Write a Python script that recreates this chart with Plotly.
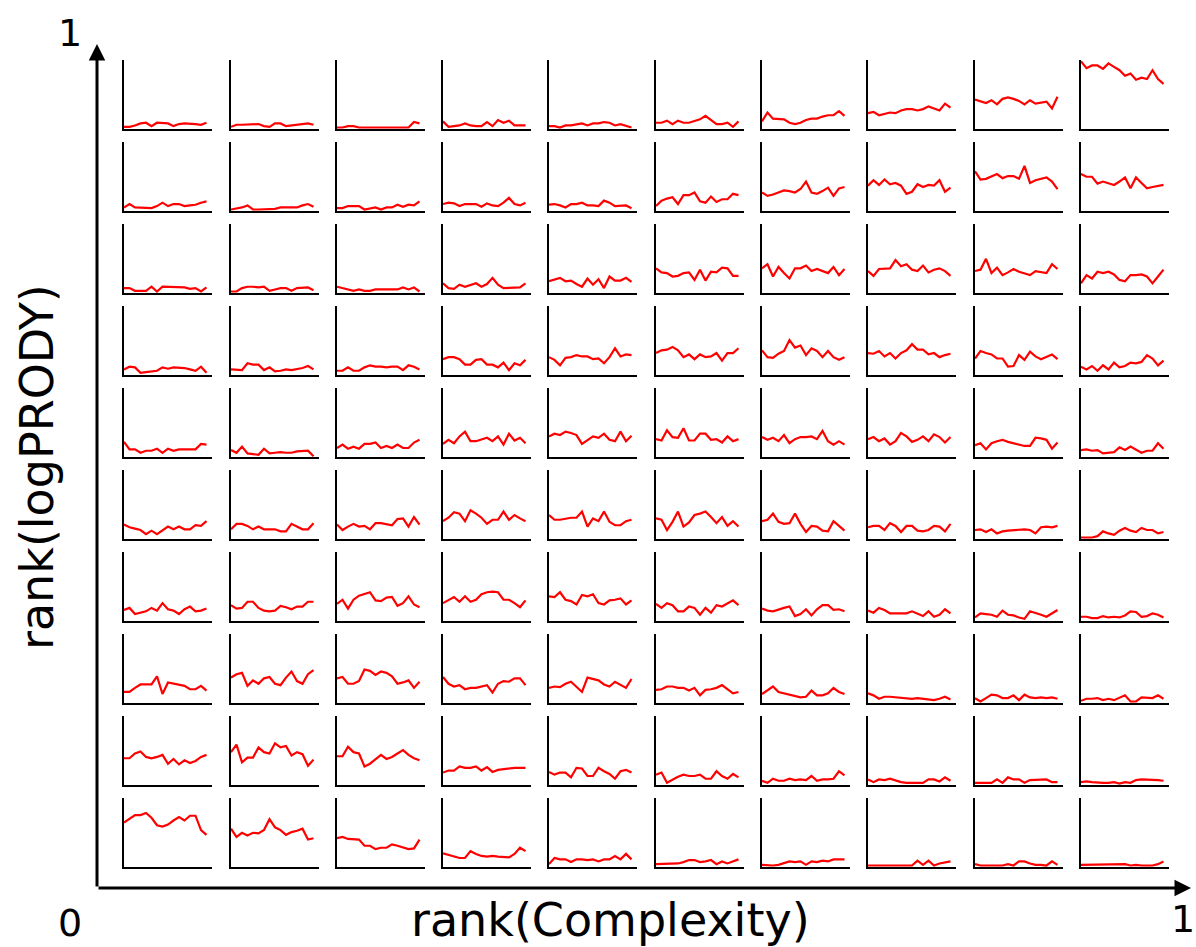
import plotly.graph_objects as go

# Each row (top to bottom) holds 10 panels (left to right), 16 values each
row0 = [
    [0.02,0.02,0.04,0.07,0.08,0.03,0.08,0.07,0.07,0.03,0.06,0.07,0.07,0.06,0.05,0.08],
    [0.02,0.05,0.05,0.05,0.05,0.06,0.03,0.02,0.07,0.07,0.03,0.04,0.04,0.06,0.07,0.05],
    [0.01,0.01,0.03,0.03,0.01,0.01,0.02,0.01,0.02,0.01,0.02,0.01,0.01,0.01,0.09,0.07],
    [0.10,0.02,0.03,0.04,0.07,0.04,0.03,0.03,0.09,0.03,0.12,0.08,0.11,0.04,0.04,0.04],
    [0.03,0.03,0.01,0.04,0.04,0.06,0.07,0.04,0.07,0.07,0.09,0.08,0.04,0.06,0.03,0.01],
    [0.08,0.08,0.11,0.06,0.11,0.08,0.08,0.11,0.13,0.18,0.12,0.06,0.06,0.08,0.02,0.10],
    [0.10,0.23,0.14,0.14,0.13,0.08,0.06,0.08,0.12,0.14,0.14,0.17,0.19,0.19,0.25,0.18],
    [0.22,0.24,0.19,0.21,0.23,0.22,0.26,0.28,0.28,0.26,0.28,0.32,0.29,0.26,0.36,0.30],
    [0.42,0.39,0.37,0.41,0.35,0.43,0.45,0.43,0.40,0.35,0.41,0.36,0.38,0.39,0.29,0.46],
    [0.98,0.88,0.92,0.92,0.87,0.95,0.90,0.85,0.77,0.80,0.71,0.74,0.72,0.85,0.72,0.65],
]
row1 = [
    [0.04,0.09,0.04,0.04,0.04,0.03,0.06,0.11,0.06,0.09,0.09,0.06,0.07,0.08,0.11,0.13],
    [0.01,0.02,0.04,0.07,0.01,0.01,0.01,0.01,0.02,0.04,0.04,0.05,0.04,0.07,0.09,0.05],
    [0.03,0.03,0.06,0.06,0.06,0.01,0.03,0.04,0.01,0.04,0.04,0.08,0.05,0.08,0.07,0.13],
    [0.09,0.11,0.10,0.06,0.09,0.09,0.09,0.05,0.10,0.07,0.06,0.11,0.18,0.09,0.07,0.11],
    [0.08,0.09,0.07,0.04,0.09,0.09,0.11,0.07,0.07,0.06,0.14,0.11,0.06,0.07,0.07,0.03],
    [0.06,0.14,0.17,0.19,0.09,0.22,0.22,0.26,0.13,0.11,0.20,0.12,0.16,0.16,0.24,0.22],
    [0.26,0.21,0.23,0.26,0.29,0.28,0.26,0.31,0.42,0.26,0.24,0.28,0.33,0.21,0.32,0.34],
    [0.36,0.44,0.37,0.45,0.38,0.40,0.36,0.24,0.27,0.38,0.34,0.37,0.36,0.44,0.27,0.33],
    [0.57,0.45,0.46,0.49,0.53,0.47,0.50,0.50,0.46,0.65,0.40,0.44,0.46,0.48,0.42,0.31],
    [0.53,0.49,0.49,0.39,0.42,0.40,0.37,0.42,0.48,0.32,0.48,0.40,0.32,0.34,0.36,0.37],
]
row2 = [
    [0.06,0.06,0.02,0.02,0.02,0.08,0.01,0.08,0.08,0.07,0.07,0.07,0.05,0.06,0.01,0.07],
    [0.01,0.01,0.06,0.08,0.08,0.07,0.08,0.02,0.04,0.06,0.06,0.02,0.06,0.06,0.07,0.03],
    [0.08,0.06,0.04,0.02,0.04,0.02,0.02,0.04,0.04,0.04,0.04,0.04,0.07,0.04,0.07,0.01],
    [0.13,0.06,0.05,0.11,0.08,0.11,0.13,0.08,0.12,0.21,0.11,0.06,0.06,0.07,0.07,0.13],
    [0.16,0.19,0.21,0.16,0.17,0.12,0.08,0.20,0.11,0.19,0.06,0.23,0.17,0.17,0.21,0.15],
    [0.35,0.29,0.28,0.23,0.24,0.28,0.29,0.18,0.33,0.17,0.30,0.29,0.36,0.35,0.24,0.24],
    [0.35,0.41,0.23,0.37,0.28,0.20,0.35,0.35,0.39,0.31,0.34,0.31,0.28,0.37,0.25,0.34],
    [0.31,0.24,0.34,0.34,0.35,0.47,0.38,0.41,0.33,0.31,0.39,0.29,0.33,0.35,0.31,0.24],
    [0.31,0.33,0.49,0.28,0.36,0.25,0.29,0.34,0.30,0.27,0.25,0.31,0.29,0.28,0.41,0.34],
    [0.13,0.25,0.20,0.30,0.28,0.30,0.26,0.18,0.16,0.25,0.25,0.26,0.23,0.13,0.23,0.33],
]
row3 = [
    [0.07,0.11,0.10,0.02,0.03,0.04,0.05,0.10,0.08,0.10,0.10,0.09,0.07,0.05,0.11,0.02],
    [0.07,0.06,0.06,0.16,0.14,0.14,0.06,0.10,0.04,0.05,0.07,0.06,0.07,0.09,0.12,0.07],
    [0.05,0.05,0.10,0.05,0.05,0.10,0.13,0.11,0.11,0.10,0.11,0.11,0.06,0.13,0.11,0.07],
    [0.22,0.25,0.25,0.22,0.14,0.14,0.21,0.22,0.14,0.14,0.10,0.17,0.06,0.16,0.13,0.21],
    [0.25,0.21,0.13,0.24,0.25,0.28,0.26,0.26,0.22,0.23,0.16,0.25,0.38,0.26,0.29,0.28],
    [0.31,0.35,0.36,0.40,0.35,0.25,0.29,0.22,0.29,0.25,0.26,0.31,0.20,0.31,0.31,0.38],
    [0.35,0.25,0.24,0.30,0.34,0.50,0.39,0.42,0.28,0.38,0.34,0.25,0.34,0.25,0.21,0.25],
    [0.31,0.30,0.34,0.26,0.31,0.23,0.31,0.35,0.44,0.36,0.36,0.29,0.31,0.25,0.28,0.30],
    [0.23,0.34,0.31,0.29,0.23,0.23,0.11,0.12,0.28,0.21,0.33,0.26,0.22,0.25,0.29,0.22],
    [0.11,0.07,0.12,0.05,0.13,0.07,0.17,0.10,0.12,0.17,0.16,0.18,0.28,0.23,0.13,0.20],
]
row4 = [
    [0.21,0.10,0.10,0.05,0.08,0.08,0.11,0.05,0.11,0.08,0.10,0.10,0.10,0.10,0.18,0.17],
    [0.09,0.05,0.14,0.04,0.03,0.02,0.11,0.04,0.05,0.06,0.05,0.05,0.07,0.07,0.08,0.00],
    [0.12,0.17,0.11,0.14,0.11,0.18,0.18,0.20,0.12,0.15,0.12,0.17,0.12,0.12,0.20,0.24],
    [0.18,0.24,0.19,0.29,0.36,0.22,0.22,0.25,0.27,0.22,0.29,0.17,0.33,0.23,0.27,0.19],
    [0.29,0.33,0.31,0.36,0.34,0.31,0.18,0.24,0.29,0.27,0.33,0.24,0.22,0.36,0.22,0.30],
    [0.25,0.23,0.38,0.28,0.27,0.41,0.23,0.23,0.33,0.33,0.24,0.25,0.20,0.29,0.22,0.25],
    [0.28,0.24,0.27,0.22,0.31,0.19,0.25,0.28,0.28,0.29,0.25,0.37,0.22,0.17,0.22,0.17],
    [0.25,0.28,0.22,0.26,0.17,0.22,0.34,0.29,0.21,0.24,0.29,0.22,0.32,0.28,0.20,0.28],
    [0.16,0.19,0.10,0.19,0.22,0.24,0.21,0.19,0.18,0.15,0.15,0.27,0.26,0.24,0.11,0.20],
    [0.09,0.10,0.08,0.09,0.04,0.05,0.06,0.13,0.09,0.14,0.10,0.05,0.08,0.08,0.19,0.11],
]
row5 = [
    [0.20,0.16,0.14,0.12,0.06,0.11,0.06,0.11,0.17,0.13,0.17,0.13,0.13,0.19,0.18,0.25],
    [0.13,0.21,0.21,0.18,0.13,0.17,0.13,0.13,0.13,0.10,0.10,0.21,0.17,0.13,0.13,0.22],
    [0.20,0.12,0.17,0.21,0.17,0.18,0.13,0.22,0.22,0.21,0.19,0.28,0.29,0.17,0.31,0.20],
    [0.25,0.30,0.38,0.36,0.25,0.41,0.36,0.30,0.21,0.27,0.27,0.39,0.27,0.34,0.29,0.25],
    [0.34,0.27,0.27,0.29,0.30,0.30,0.39,0.17,0.29,0.25,0.39,0.24,0.19,0.19,0.25,0.27],
    [0.29,0.27,0.12,0.24,0.39,0.17,0.23,0.34,0.36,0.39,0.31,0.22,0.31,0.18,0.25,0.17],
    [0.25,0.27,0.36,0.24,0.21,0.22,0.36,0.21,0.09,0.18,0.17,0.11,0.10,0.25,0.18,0.11],
    [0.16,0.18,0.18,0.12,0.22,0.18,0.09,0.18,0.18,0.11,0.10,0.12,0.18,0.17,0.10,0.21],
    [0.12,0.13,0.09,0.13,0.07,0.10,0.11,0.12,0.12,0.13,0.12,0.07,0.16,0.17,0.16,0.18],
    [0.01,0.01,0.01,0.03,0.10,0.07,0.05,0.11,0.15,0.11,0.09,0.15,0.12,0.12,0.07,0.09],
]
row6 = [
    [0.15,0.18,0.09,0.11,0.13,0.18,0.14,0.25,0.16,0.14,0.09,0.16,0.20,0.13,0.14,0.17],
    [0.22,0.17,0.18,0.27,0.27,0.18,0.14,0.13,0.14,0.21,0.19,0.16,0.20,0.20,0.27,0.27],
    [0.24,0.30,0.17,0.30,0.36,0.38,0.41,0.29,0.28,0.33,0.34,0.21,0.25,0.35,0.23,0.19],
    [0.25,0.30,0.34,0.27,0.35,0.27,0.30,0.38,0.41,0.42,0.41,0.30,0.30,0.25,0.19,0.29],
    [0.35,0.34,0.41,0.30,0.28,0.23,0.37,0.35,0.38,0.25,0.23,0.29,0.30,0.32,0.23,0.29],
    [0.24,0.18,0.25,0.22,0.13,0.13,0.20,0.18,0.08,0.18,0.11,0.22,0.20,0.25,0.29,0.22],
    [0.17,0.14,0.13,0.16,0.18,0.20,0.06,0.09,0.16,0.07,0.16,0.22,0.22,0.15,0.16,0.13],
    [0.14,0.11,0.18,0.15,0.10,0.10,0.11,0.10,0.13,0.09,0.06,0.13,0.05,0.08,0.16,0.10],
    [0.04,0.10,0.09,0.08,0.05,0.14,0.08,0.07,0.04,0.02,0.13,0.11,0.08,0.05,0.10,0.15],
    [0.05,0.05,0.03,0.03,0.06,0.04,0.05,0.04,0.07,0.13,0.12,0.05,0.06,0.10,0.08,0.04],
]
row7 = [
    [0.15,0.15,0.21,0.26,0.26,0.26,0.38,0.12,0.29,0.27,0.26,0.24,0.19,0.19,0.24,0.17],
    [0.36,0.41,0.43,0.24,0.32,0.27,0.35,0.37,0.27,0.25,0.36,0.45,0.31,0.27,0.41,0.47],
    [0.35,0.37,0.27,0.27,0.31,0.48,0.46,0.40,0.45,0.43,0.38,0.27,0.29,0.32,0.21,0.30],
    [0.37,0.27,0.23,0.25,0.19,0.21,0.21,0.23,0.25,0.14,0.27,0.31,0.30,0.35,0.35,0.25],
    [0.21,0.23,0.22,0.27,0.30,0.23,0.15,0.36,0.34,0.32,0.26,0.23,0.30,0.26,0.21,0.34],
    [0.18,0.19,0.23,0.23,0.21,0.21,0.17,0.21,0.10,0.18,0.19,0.21,0.25,0.19,0.13,0.15],
    [0.12,0.17,0.23,0.15,0.13,0.12,0.10,0.07,0.08,0.17,0.10,0.10,0.13,0.21,0.15,0.12],
    [0.13,0.10,0.05,0.08,0.08,0.07,0.06,0.06,0.05,0.06,0.05,0.04,0.03,0.05,0.08,0.04],
    [0.06,0.01,0.06,0.11,0.10,0.06,0.06,0.10,0.03,0.11,0.07,0.06,0.07,0.06,0.07,0.05],
    [0.02,0.05,0.05,0.06,0.03,0.05,0.03,0.07,0.10,0.01,0.01,0.07,0.07,0.06,0.10,0.05],
]
row8 = [
    [0.38,0.38,0.45,0.48,0.40,0.38,0.40,0.43,0.30,0.37,0.29,0.35,0.31,0.34,0.40,0.43],
    [0.47,0.58,0.32,0.39,0.39,0.54,0.47,0.45,0.60,0.54,0.56,0.42,0.47,0.44,0.27,0.36],
    [0.41,0.41,0.55,0.47,0.45,0.26,0.30,0.37,0.43,0.37,0.40,0.45,0.50,0.43,0.38,0.35],
    [0.17,0.20,0.20,0.26,0.24,0.24,0.26,0.20,0.25,0.18,0.21,0.22,0.24,0.24,0.24,0.24],
    [0.18,0.14,0.17,0.17,0.10,0.24,0.23,0.12,0.12,0.24,0.19,0.15,0.08,0.19,0.21,0.17],
    [0.14,0.17,0.02,0.07,0.11,0.14,0.12,0.12,0.14,0.08,0.08,0.19,0.12,0.08,0.15,0.10],
    [0.05,0.02,0.08,0.05,0.05,0.08,0.06,0.07,0.06,0.12,0.05,0.07,0.07,0.08,0.19,0.13],
    [0.07,0.03,0.07,0.06,0.08,0.05,0.03,0.02,0.02,0.03,0.02,0.07,0.07,0.04,0.10,0.05],
    [0.02,0.02,0.02,0.02,0.07,0.02,0.10,0.07,0.07,0.02,0.06,0.06,0.06,0.07,0.03,0.03],
    [0.03,0.04,0.03,0.02,0.02,0.02,0.03,0.01,0.03,0.02,0.06,0.07,0.07,0.07,0.06,0.05],
]
row9 = [
    [0.64,0.69,0.75,0.75,0.78,0.71,0.60,0.58,0.61,0.67,0.72,0.67,0.74,0.74,0.53,0.46],
    [0.55,0.43,0.49,0.45,0.49,0.48,0.53,0.69,0.57,0.53,0.46,0.50,0.52,0.55,0.39,0.41],
    [0.41,0.43,0.40,0.39,0.39,0.30,0.30,0.25,0.27,0.27,0.32,0.30,0.28,0.25,0.26,0.39],
    [0.19,0.17,0.14,0.12,0.12,0.22,0.18,0.15,0.14,0.15,0.14,0.14,0.13,0.18,0.27,0.22],
    [0.03,0.12,0.10,0.10,0.06,0.10,0.10,0.09,0.10,0.07,0.10,0.10,0.15,0.10,0.18,0.10],
    [0.03,0.03,0.04,0.04,0.04,0.06,0.09,0.09,0.06,0.07,0.09,0.03,0.07,0.04,0.07,0.10],
    [0.02,0.01,0.01,0.02,0.04,0.07,0.06,0.07,0.02,0.07,0.06,0.08,0.07,0.10,0.10,0.10],
    [0.01,0.01,0.01,0.01,0.01,0.01,0.01,0.01,0.01,0.08,0.02,0.08,0.01,0.04,0.06,0.07],
    [0.03,0.01,0.01,0.01,0.01,0.01,0.03,0.01,0.07,0.07,0.04,0.02,0.02,0.01,0.07,0.02],
    [0.02,0.02,0.02,0.03,0.02,0.02,0.02,0.02,0.03,0.01,0.02,0.01,0.01,0.01,0.03,0.07],
]
rows = [row0, row1, row2, row3, row4, row5, row6, row7, row8, row9]
steps = list(range(16))

W, H = 1196, 947
col_left = [124, 231, 337, 443, 549, 656, 762, 868, 975, 1081]
row_top = [60, 142, 224, 306, 388, 470, 552, 634, 716, 798]
pw, ph = 88, 69

fig = go.Figure()
layout = dict(
    width=W, height=H, margin=dict(l=0, r=0, t=0, b=0),
    paper_bgcolor="white", plot_bgcolor="white", showlegend=False,
    font=dict(family="DejaVu Sans", color="black"),
)
k = 0
for r, row in enumerate(rows):
    for c, vals in enumerate(row):
        k += 1
        xa = "x" if k == 1 else f"x{k}"
        ya = "y" if k == 1 else f"y{k}"
        fig.add_trace(go.Scatter(x=steps, y=vals, mode="lines",
                                 line=dict(color="red", width=2.2),
                                 xaxis=xa, yaxis=ya, hoverinfo="skip"))
        x0 = col_left[c] / W
        x1 = (col_left[c] + pw) / W
        y1 = 1 - row_top[r] / H
        y0 = 1 - (row_top[r] + ph) / H
        common = dict(showline=True, linecolor="black", linewidth=2,
                      showgrid=False, zeroline=False, showticklabels=False,
                      ticks="", fixedrange=True)
        layout["xaxis" if k == 1 else f"xaxis{k}"] = dict(
            domain=[x0, x1], range=[0, 16], anchor=ya, **common)
        layout["yaxis" if k == 1 else f"yaxis{k}"] = dict(
            domain=[y0, y1], range=[-0.012, 1], anchor=xa, **common)

fig.update_layout(**layout)

ox, oy = 97, 888
txt = dict(xref="paper", yref="paper", showarrow=False,
           xanchor="center", yanchor="middle")
annotations = [
    dict(x=1191 / W, y=1 - oy / H, xref="paper", yref="paper", ax=-(1191 - ox), ay=0,
         text="", showarrow=True, arrowhead=2, arrowsize=1.1, arrowwidth=3,
         arrowcolor="black", standoff=0),
    dict(x=ox / W, y=1 - 44 / H, xref="paper", yref="paper", ax=0, ay=(oy - 44),
         text="", showarrow=True, arrowhead=2, arrowsize=1.1, arrowwidth=3,
         arrowcolor="black", standoff=0),
    dict(x=70 / W, y=1 - 33 / H, text="1", font=dict(size=38), **txt),
    dict(x=70 / W, y=1 - 923 / H, text="0", font=dict(size=38), **txt),
    dict(x=1183 / W, y=1 - 919 / H, text="1", font=dict(size=38), **txt),
    dict(x=610 / W, y=1 - 920 / H, text="rank(Complexity)", font=dict(size=46), **txt),
    dict(x=37 / W, y=1 - 467 / H, text="rank(logPRODY)", textangle=-90,
         font=dict(size=46), **txt),
]
fig.update_layout(annotations=annotations)
fig.write_html("out.html")
